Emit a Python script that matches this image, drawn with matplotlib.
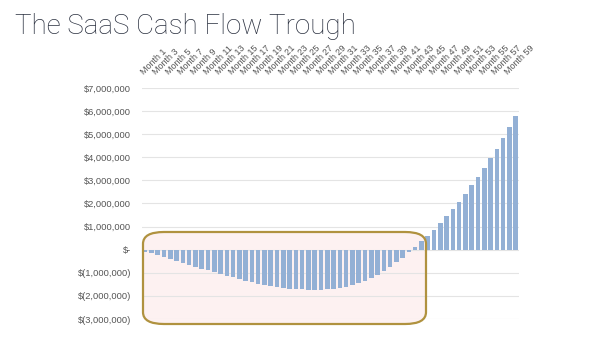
import matplotlib
matplotlib.use('Agg')
import matplotlib.pyplot as plt
from matplotlib.patches import FancyBboxPatch

# cumulative cash position per month, in $ millions
months = ['Month ' + str(m) for m in range(1, 61)]
cash_m = [-0.08, -0.15, -0.23, -0.31, -0.40, -0.49, -0.57, -0.65, -0.74, -0.82,
          -0.90, -0.98, -1.06, -1.13, -1.20, -1.27, -1.34, -1.41, -1.47, -1.53,
          -1.58, -1.62, -1.66, -1.69, -1.71, -1.72, -1.73, -1.73, -1.73, -1.72,
          -1.69, -1.65, -1.60, -1.53, -1.45, -1.35, -1.23, -1.09, -0.93, -0.75,
          -0.55, -0.34, -0.12, 0.12, 0.36, 0.61, 0.87, 1.15, 1.44, 1.76,
          2.08, 2.42, 2.78, 3.15, 3.53, 3.95, 4.37, 4.82, 5.31, 5.80]
y_ticks = [7, 6, 5, 4, 3, 2, 1, 0, -1, -2, -3]
y_labels = ['$7,000,000', '$6,000,000', '$5,000,000', '$4,000,000', '$3,000,000',
            '$2,000,000', '$1,000,000', '$-', '$(1,000,000)', '$(2,000,000)',
            '$(3,000,000)']

cash = [v * 1e6 for v in cash_m]
x = list(range(len(months)))

fig = plt.figure(figsize=(6, 3.37), dpi=100)
ax = fig.add_axes([0.2367, 0.0534, 0.628, 0.6856])
ax.set_facecolor('none')

ax.bar(x, cash, width=0.72, color='#93b0d5', zorder=3)

ax.set_xlim(-0.5, 59.5)
ax.set_ylim(-3e6, 7e6)
ax.set_yticks([t * 1e6 for t in y_ticks])
ax.set_yticklabels(y_labels, fontsize=6.7, color='#555555', family='Liberation Sans')
ax.yaxis.grid(True, color='#e4e4e4', linewidth=0.8)
ax.set_axisbelow(True)
ax.tick_params(axis='y', length=0, pad=8)

ax.xaxis.tick_top()
ax.set_xticks(x[::2])
ax.set_xticklabels(months[::2], rotation=45, ha='left', va='bottom',
                   rotation_mode='anchor', fontsize=6.5, color='#555555',
                   family='Liberation Sans')
ax.tick_params(axis='x', length=0, pad=8)

for s in ax.spines.values():
    s.set_visible(False)

# highlighted trough region (figure pixel coords)
box_xy = (143 / 600, 1 - 324 / 337)
box_w, box_h = 283 / 600, 92 / 337
fill = FancyBboxPatch(box_xy, box_w, box_h,
                      boxstyle='round,pad=0,rounding_size=0.035',
                      transform=fig.transFigure, facecolor='#fdf1f1',
                      edgecolor='none', zorder=0.2)
ax.add_artist(fill)
fill.set_clip_on(False)
border = FancyBboxPatch(box_xy, box_w, box_h,
                        boxstyle='round,pad=0,rounding_size=0.035',
                        transform=fig.transFigure, facecolor='none',
                        edgecolor='#b0923f', linewidth=1.6, zorder=5)
ax.add_artist(border)
border.set_clip_on(False)

fig.text(15 / 600, 1 - 34 / 337, 'The SaaS Cash Flow Trough', fontsize=20,
         color='#2b3140', family='Roboto', fontweight='light',
         ha='left', va='baseline')

fig.savefig('out.png', dpi=100)
